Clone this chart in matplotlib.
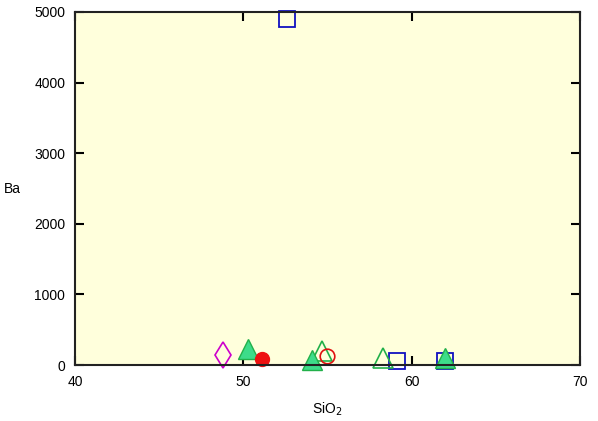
import matplotlib
matplotlib.use('Agg')
import matplotlib.pyplot as plt

plt.rcParams['font.family'] = ['Liberation Sans', 'DejaVu Sans']

# SiO2 / Ba pairs for each sample group
diamond_x = [48.8]
diamond_y = [140]
tri_fill_x = [50.3, 54.1, 62.0]
tri_fill_y = [230, 70, 100]
dot_fill_x = [51.1]
dot_fill_y = [80]
tri_open_x = [54.7, 58.3]
tri_open_y = [200, 100]
circ_open_x = [55.0]
circ_open_y = [130]
sq_open_x = [59.1, 62.0, 52.6]
sq_open_y = [50, 50, 4900]

xticks = [40, 50, 60, 70]
yticks = [0, 1000, 2000, 3000, 4000, 5000]

fig = plt.figure(figsize=(5.98, 4.21), dpi=100)
ax = fig.add_axes([0.1254, 0.133, 0.8445, 0.8385])
ax.set_facecolor('#FFFFDC')

green_edge = '#22B04A'
green_fill = '#3DDC8A'

ax.plot(diamond_x, diamond_y, linestyle='none', marker='d', ms=13,
        mfc='none', mec='#CC00CC', mew=1.2, clip_on=False)
ax.plot(sq_open_x, sq_open_y, linestyle='none', marker='s', ms=11,
        mfc='none', mec='#1010C0', mew=1.3, clip_on=False)
ax.plot(tri_open_x, tri_open_y, linestyle='none', marker='^', ms=14,
        mfc='none', mec=green_edge, mew=1.2, clip_on=False)
ax.plot(circ_open_x, circ_open_y, linestyle='none', marker='o', ms=10.5,
        mfc='none', mec='#E01010', mew=1.2, clip_on=False)
ax.plot(tri_fill_x, tri_fill_y, linestyle='none', marker='^', ms=14,
        mfc=green_fill, mec=green_edge, mew=1.0, clip_on=False)
ax.plot(dot_fill_x, dot_fill_y, linestyle='none', marker='o', ms=10,
        mfc='#EE1111', mec='#EE1111', clip_on=False)

ax.set_xlim(40, 70)
ax.set_ylim(0, 5000)
ax.set_xticks(xticks)
ax.set_yticks(yticks)
ax.set_xticks([50], minor=True)
ax.tick_params(which='major', direction='in', length=6.5, width=1.5,
               top=True, right=True, labelsize=10, colors='black')
ax.tick_params(axis='x', which='major', pad=7.5)
ax.tick_params(axis='y', which='major', pad=7)
ax.tick_params(axis='x', which='minor', direction='in', length=12.5, width=1.5,
               top=True, bottom=True)
ax.tick_params(axis='y', which='minor', left=False, right=False)
for sp in ax.spines.values():
    sp.set_linewidth(1.5)
    sp.set_color('#222222')

ax.set_xlabel('SiO$_2$', fontsize=10, labelpad=8)
ax.set_ylabel('Ba', fontsize=10, rotation=0, labelpad=16, va='center')

fig.savefig('out.png', dpi=100)
